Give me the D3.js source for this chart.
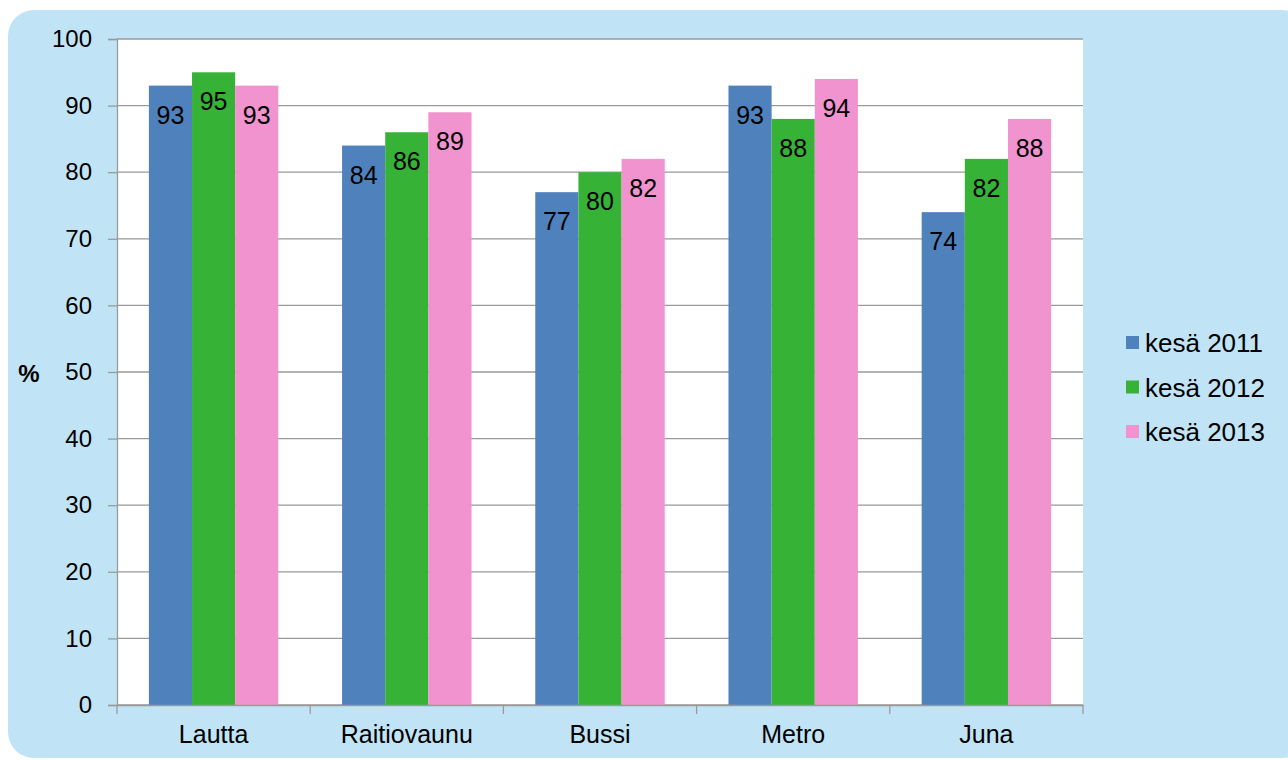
<!DOCTYPE html>
<html>
<head>
<meta charset="utf-8">
<script src="https://cdn.jsdelivr.net/npm/d3@7"></script>
<style>
  body { margin: 0; background: #fff; }
  svg text { font-family: "Liberation Sans", Arial, sans-serif; fill: #000; }
</style>
</head>
<body>
<div id="chart"></div>
<script>
// Data
var categories = ["Lautta", "Raitiovaunu", "Bussi", "Metro", "Juna"];
var seriesNames = ["kesä 2011", "kesä 2012", "kesä 2013"];
var values2011 = [93, 84, 77, 93, 74];
var values2012 = [95, 86, 80, 88, 82];
var values2013 = [93, 89, 82, 94, 88];
var yTicks = [0, 10, 20, 30, 40, 50, 60, 70, 80, 90, 100];
var colors = ["#4F81BD", "#36B236", "#F093CF"];

var series = [values2011, values2012, values2013];

var svgWidth = 1288, svgHeight = 760;
var plot = { left: 117, right: 1083, top: 39, bottom: 705 };
var font = "Liberation Sans, Arial, sans-serif";

var svg = d3.select("#chart")
    .append("svg")
    .attr("width", svgWidth)
    .attr("height", svgHeight);

// Light blue panel
svg.append("rect")
    .attr("x", 8).attr("y", 10)
    .attr("width", 1300).attr("height", 748)
    .attr("rx", 26).attr("ry", 26)
    .attr("fill", "#C0E4F6");

// White plot area
svg.append("rect")
    .attr("x", plot.left).attr("y", plot.top)
    .attr("width", plot.right - plot.left)
    .attr("height", plot.bottom - plot.top)
    .attr("fill", "#fff");

// Scales
var x = d3.scaleBand()
    .domain(categories)
    .range([plot.left, plot.right])
    .paddingInner(0.33)
    .paddingOuter(0.165);

var xInner = d3.scaleBand()
    .domain(d3.range(series.length))
    .range([0, x.bandwidth()]);

var y = d3.scaleLinear()
    .domain([0, 100])
    .range([plot.bottom, plot.top]);

// Gridlines
svg.append("g")
    .selectAll("line")
    .data(yTicks)
    .join("line")
    .attr("x1", plot.left).attr("x2", plot.right)
    .attr("y1", d => y(d)).attr("y2", d => y(d))
    .attr("stroke", "#9A9A9A")
    .attr("stroke-width", 1.3);

// Bars + value labels
series.forEach(function (vals, s) {
    var g = svg.append("g");
    g.selectAll("rect")
        .data(vals)
        .join("rect")
        .attr("x", (d, i) => x(categories[i]) + xInner(s))
        .attr("y", d => y(d))
        .attr("width", xInner.bandwidth())
        .attr("height", d => y(0) - y(d))
        .attr("fill", colors[s]);
    g.selectAll("text")
        .data(vals)
        .join("text")
        .attr("x", (d, i) => x(categories[i]) + xInner(s) + xInner.bandwidth() / 2)
        .attr("y", d => y(d) + 38)
        .attr("text-anchor", "middle")
        .attr("font-size", 25)
        .text(d => d);
});

// Y axis
var yAxis = d3.axisLeft(y)
    .tickValues(yTicks)
    .tickSize(9)
    .tickPadding(16);
var yg = svg.append("g")
    .attr("transform", "translate(" + plot.left + ",0)")
    .call(yAxis);
yg.select(".domain").attr("stroke", "#9A9A9A").attr("stroke-width", 1.3);
yg.selectAll(".tick line").attr("stroke", "#9A9A9A").attr("stroke-width", 1.3);
yg.selectAll(".tick text")
    .attr("font-size", 24)
    .attr("font-family", font)
    .attr("fill", "#000");

// X axis
var xAxis = d3.axisBottom(x)
    .tickSize(0)
    .tickPadding(20);
var xg = svg.append("g")
    .attr("transform", "translate(0," + plot.bottom + ")")
    .call(xAxis);
xg.select(".domain").attr("stroke", "#9A9A9A").attr("stroke-width", 1.3);
xg.selectAll(".tick text")
    .attr("font-size", 25)
    .attr("font-family", font)
    .attr("fill", "#000");

// Category divider ticks below x axis
var step = x.step();
svg.append("g")
    .selectAll("line")
    .data(d3.range(categories.length + 1))
    .join("line")
    .attr("x1", i => plot.left + i * step)
    .attr("x2", i => plot.left + i * step)
    .attr("y1", plot.bottom)
    .attr("y2", plot.bottom + 9)
    .attr("stroke", "#9A9A9A")
    .attr("stroke-width", 1.3);

// Y axis title
svg.append("text")
    .attr("x", 29).attr("y", 382)
    .attr("text-anchor", "middle")
    .attr("font-size", 24)
    .attr("font-weight", "bold")
    .text("%");

// Legend
var legend = svg.append("g")
    .selectAll("g")
    .data(seriesNames)
    .join("g")
    .attr("transform", (d, i) => "translate(1126," + (343 + i * 44.5) + ")");
legend.append("rect")
    .attr("x", 0).attr("y", -7)
    .attr("width", 13).attr("height", 13)
    .attr("fill", (d, i) => colors[i]);
legend.append("text")
    .attr("x", 19).attr("y", 9)
    .attr("font-size", 26)
    .text(d => d);
</script>
</body>
</html>
